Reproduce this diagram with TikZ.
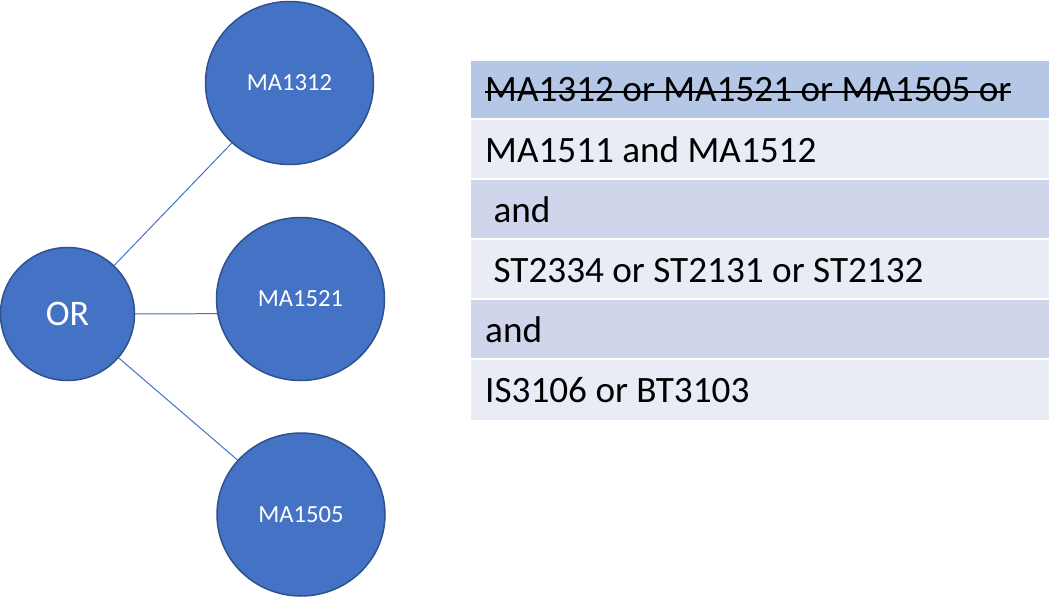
\documentclass[tikz,border=0pt]{standalone}
\usepackage{fontspec}
\setmainfont{Carlito}
\usetikzlibrary{shapes.geometric}
\definecolor{accent}{HTML}{4472C4}
\definecolor{accentdark}{HTML}{2F528F}
\definecolor{rowhead}{HTML}{B4C7E7}
\definecolor{rowlight}{HTML}{E9EBF5}
\definecolor{rowmid}{HTML}{CFD5EA}
\tikzset{
  bubble/.style={ellipse, fill=accent, draw=accentdark, line width=1.5pt, inner sep=0pt, text=white},
  link/.style={draw=accent, line width=1pt},
  rowtext/.style={anchor=base west, inner sep=0pt, font=\fontsize{37.2}{40}\selectfont},
}
\begin{document}
\begin{tikzpicture}[x=1pt,y=-1pt]
\useasboundingbox (0,0) rectangle (1053,598);
% circles
\node[bubble, minimum width=134pt, minimum height=133pt, font=\fontsize{36}{40}\selectfont] (or) at (67.5,314) {OR};
\node[bubble, minimum width=168pt, minimum height=163pt, font=\fontsize{24.6}{28}\selectfont] (m1312) at (289.5,83) {MA1312};
\node[bubble, minimum width=168pt, minimum height=163pt, font=\fontsize{24.6}{28}\selectfont] (m1521) at (300.5,299) {MA1521};
\node[bubble, minimum width=168pt, minimum height=163pt, font=\fontsize{24.6}{28}\selectfont] (m1505) at (301,514.5) {MA1505};
% connectors
\draw[link] (or) -- (m1312);
\draw[link] (or) -- (m1521.190);
\draw[link] (or) -- (m1505);
% table rows
\fill[rowhead]  (471,60.5) rectangle (1049,118);
\fill[rowlight] (471,120) rectangle (1049,178);
\fill[rowmid]   (471,180) rectangle (1049,238);
\fill[rowlight] (471,240) rectangle (1049,298);
\fill[rowmid]   (471,300) rectangle (1049,358);
\fill[rowlight] (471,360) rectangle (1049,420);
% texts
\node[rowtext] (t1) at (485,101) {MA1312 or MA1521 or MA1505 or};
\draw[line width=2pt] ([yshift=9pt]t1.base west) -- ([yshift=9pt]t1.base east);
\node[rowtext] (t2) at (485,162) {MA1511 and MA1512};
\node[rowtext] (t3) at (485,222) {\ and};
\node[rowtext] (t4) at (485,282) {\ ST2334 or ST2131 or ST2132};
\node[rowtext] (t5) at (485,342) {and};
\node[rowtext] (t6) at (485,402) {IS3106 or BT3103};
\end{tikzpicture}
\end{document}
